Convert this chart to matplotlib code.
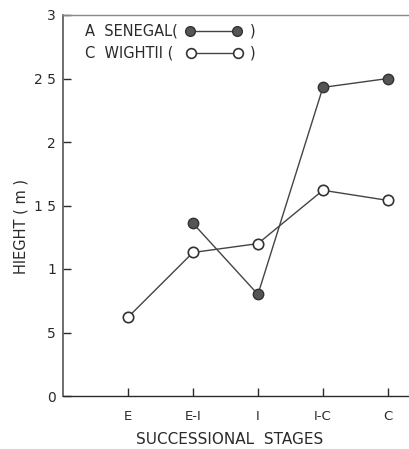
import numpy as np
import matplotlib
matplotlib.use("Agg")
import matplotlib.pyplot as plt

# values
stages = ["E", "E-I", "I", "I-C", "C"]
senegal = [np.nan, 1.36, 0.80, 2.43, 2.50]
wightii = [0.62, 1.13, 1.20, 1.62, 1.54]
ytick_vals = [0, 0.5, 1, 1.5, 2, 2.5, 3]
ytick_labels = ["0", "5", "1", "1 5", "2", "2 5", "3"]

ink = "#2a2a2a"
plt.rcParams['font.family'] = ['DejaVu Sans']

fig = plt.figure(figsize=(4.1, 4.49), dpi=100)
ax = fig.add_axes([63 / 410, 1 - 396 / 449, 1 - 63 / 410, (396 - 15) / 449])

x = np.arange(len(stages))
ax.plot(x, wightii, color="#444444", lw=1.0, marker="o", ms=7.5,
        mfc="white", mec="#333333", mew=1.2, zorder=3)
ax.plot(x, senegal, color="#444444", lw=1.0, marker="o", ms=7.5,
        mfc="#555555", mec="#333333", mew=1.0, zorder=4)

ax.set_xlim(-1.0, 4.34)
ax.set_ylim(0, 3)
ax.set_xticks(x)
ax.set_xticklabels(stages)
ax.set_yticks(ytick_vals)
ax.set_yticklabels(ytick_labels)

ax.tick_params(axis="y", direction="in", length=6, width=1, colors=ink,
               labelsize=10, pad=5)
ax.tick_params(axis="x", direction="in", length=6, width=1, colors=ink,
               labelsize=9.5, pad=10)

ax.spines["right"].set_visible(False)
ax.spines["top"].set_color("#888888")
ax.spines["top"].set_linewidth(1.0)
ax.spines["left"].set_color("#555555")
ax.spines["left"].set_linewidth(1.2)
ax.spines["bottom"].set_color(ink)
ax.spines["bottom"].set_linewidth(1.0)

ax.set_xlabel("SUCCESSIONAL  STAGES", fontsize=11, color=ink)
ax.xaxis.set_label_coords(0.481, -0.095)
ax.set_ylabel("HIEGHT ( m )", fontsize=10.5, color=ink)
ax.yaxis.set_label_coords(-0.098, 0.444)

# hand-drawn style key in the upper left
ax.text(0.063, 0.958, "A  SENEGAL(", transform=ax.transAxes, fontsize=10.5,
        color=ink, va="center", ha="left")
ax.plot([0.365, 0.501], [0.958, 0.958], transform=ax.transAxes, color="#444444",
        lw=1.0, marker="o", ms=7, mfc="#555555", mec="#333333", clip_on=False)
ax.text(0.538, 0.958, ")", transform=ax.transAxes, fontsize=10.5,
        color=ink, va="center", ha="left")

ax.text(0.063, 0.900, "C  WIGHTII (", transform=ax.transAxes, fontsize=10.5,
        color=ink, va="center", ha="left")
ax.plot([0.368, 0.504], [0.900, 0.900], transform=ax.transAxes, color="#444444",
        lw=1.0, marker="o", ms=7, mfc="white", mec="#333333", mew=1.2,
        clip_on=False)
ax.text(0.538, 0.900, ")", transform=ax.transAxes, fontsize=10.5,
        color=ink, va="center", ha="left")

fig.savefig("out.png", dpi=100)
